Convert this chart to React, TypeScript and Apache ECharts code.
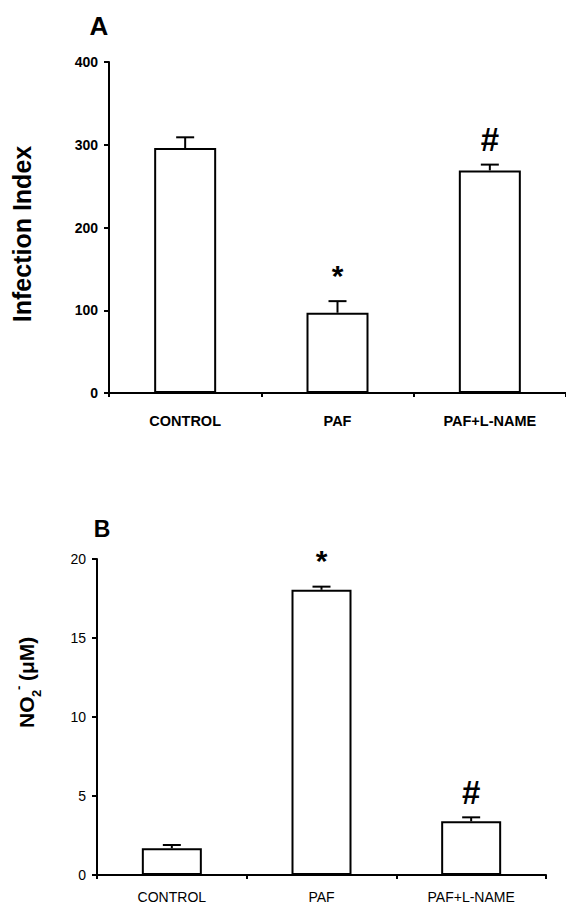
import React, { useEffect, useRef } from "react";
import * as echarts from "echarts";

const categories = ["CONTROL", "PAF", "PAF+L-NAME"];
const infectionMean = [296, 97, 269];
const infectionErr = [13, 14, 7];
const infectionMarks = ["", "*", "#"];
const no2Mean = [1.7, 18.05, 3.4];
const no2Err = [0.2, 0.2, 0.25];
const no2Marks = ["", "*", "#"];

const FONT = "'Liberation Sans', Arial, Helvetica, sans-serif";

function errorSeries(xIdx: number, mean: number[], err: number[], marks: string[]) {
  return {
    type: "custom",
    xAxisIndex: xIdx,
    yAxisIndex: xIdx,
    z: 5,
    data: mean.map((m, i) => [i, m, err[i]]),
    renderItem: (params: any, api: any) => {
      const x = api.value(0);
      const v = api.value(1);
      const e = api.value(2);
      const base = api.coord([x, v]);
      const top = api.coord([x, v + e]);
      const half = 9;
      const mark = marks[params.dataIndex];
      const children: any[] = [
        {
          type: "line",
          shape: { x1: base[0], y1: base[1], x2: top[0], y2: top[1] },
          style: { stroke: "#000", lineWidth: 2 },
        },
        {
          type: "line",
          shape: { x1: top[0] - half, y1: top[1], x2: top[0] + half, y2: top[1] },
          style: { stroke: "#000", lineWidth: 2 },
        },
      ];
      if (mark) {
        children.push({
          type: "text",
          x: top[0],
          y: mark === "*" ? top[1] - 26 : top[1] - 25,
          style: {
            text: mark,
            font: `bold ${mark === "*" ? 30 : 33}px ${FONT}`,
            fill: "#000",
            align: "center",
            verticalAlign: "middle",
          },
        });
      }
      return { type: "group", children };
    },
  };
}

function rotText(x: number, y: number, text: string, size: number, align = "left") {
  return {
    type: "text",
    x,
    y,
    rotation: Math.PI / 2,
    style: {
      text,
      font: `bold ${size}px ${FONT}`,
      fill: "#000",
      align,
      verticalAlign: "middle",
    },
  };
}

export default function App() {
  const ref = useRef<HTMLDivElement>(null);
  useEffect(() => {
    if (!ref.current) return;
    const chart = echarts.init(ref.current, null, { renderer: "svg" });
    const axisLine = { show: true, lineStyle: { color: "#000", width: 2 } };
    const axisTick = { show: true, length: 5, lineStyle: { color: "#000", width: 2 } };
    chart.setOption({
      animation: false,
      backgroundColor: "#fff",
      grid: [
        { left: 109, top: 62, width: 457, height: 331 },
        { left: 97, top: 559, width: 449, height: 317 },
      ],
      xAxis: [
        {
          type: "category",
          gridIndex: 0,
          data: categories,
          axisLine,
          axisTick: { ...axisTick, length: 4, alignWithLabel: false },
          axisLabel: { color: "#000", fontFamily: FONT, fontWeight: "bold", fontSize: 14.5, margin: 20 },
        },
        {
          type: "category",
          gridIndex: 1,
          data: categories,
          axisLine,
          axisTick: { ...axisTick, length: 4, alignWithLabel: false },
          axisLabel: { color: "#000", fontFamily: FONT, fontSize: 14, margin: 15 },
        },
      ],
      yAxis: [
        {
          type: "value",
          gridIndex: 0,
          min: 0,
          max: 400,
          interval: 100,
          axisLine,
          axisTick,
          splitLine: { show: false },
          axisLabel: { color: "#000", fontFamily: FONT, fontWeight: "bold", fontSize: 14, margin: 11 },
        },
        {
          type: "value",
          gridIndex: 1,
          min: 0,
          max: 20,
          interval: 5,
          axisLine,
          axisTick,
          splitLine: { show: false },
          axisLabel: { color: "#000", fontFamily: FONT, fontSize: 14, margin: 11 },
        },
      ],
      series: [
        {
          type: "bar",
          xAxisIndex: 0,
          yAxisIndex: 0,
          data: infectionMean,
          barWidth: 62,
          itemStyle: { color: "#fff", borderColor: "#000", borderWidth: 2 },
        },
        errorSeries(0, infectionMean, infectionErr, infectionMarks),
        {
          type: "bar",
          xAxisIndex: 1,
          yAxisIndex: 1,
          data: no2Mean,
          barWidth: 60,
          itemStyle: { color: "#fff", borderColor: "#000", borderWidth: 2 },
        },
        errorSeries(1, no2Mean, no2Err, no2Marks),
      ],
      graphic: [
        {
          type: "text",
          x: 99,
          y: 26,
          style: { text: "A", font: `bold 26px ${FONT}`, fill: "#000", align: "center", verticalAlign: "middle" },
        },
        {
          type: "text",
          x: 102,
          y: 529,
          style: { text: "B", font: `bold 23px ${FONT}`, fill: "#000", align: "center", verticalAlign: "middle" },
        },
        rotText(22, 234, "Infection Index", 25, "center"),
        rotText(26, 728, "NO", 21),
        rotText(36, 697, "2", 13),
        rotText(18, 690, "-", 13),
        rotText(26, 681, "(μM)", 21),
      ],
    });
    return () => chart.dispose();
  }, []);
  return <div ref={ref} style={{ position: "absolute", left: 0, top: 0, width: 566, height: 904 }} />;
}
